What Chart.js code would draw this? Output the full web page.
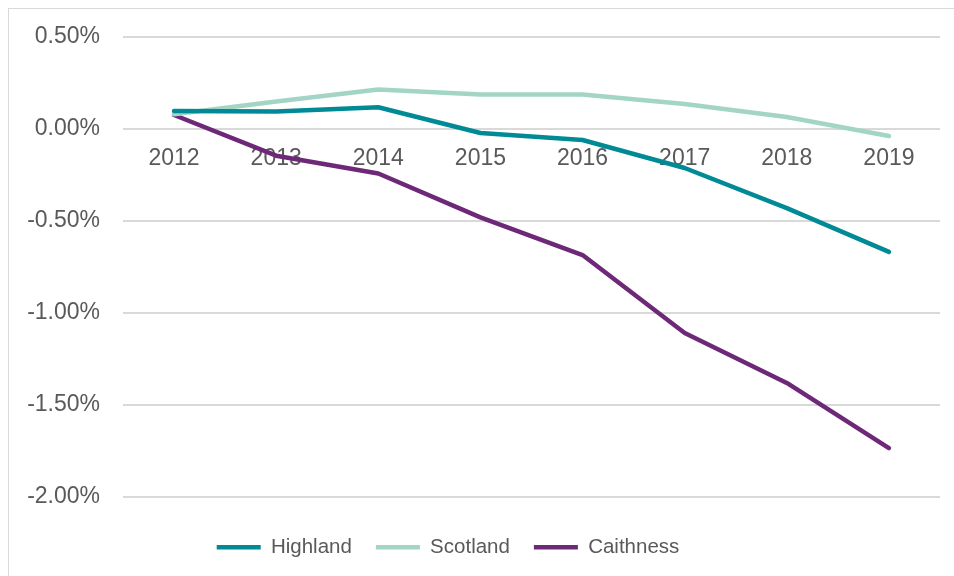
<!DOCTYPE html>
<html>
<head>
<meta charset="utf-8">
<script src="https://cdn.jsdelivr.net/npm/chart.js@4.4.1/dist/chart.umd.min.js"></script>
<style>
  html, body { margin: 0; padding: 0; background: #ffffff; }
  #wrap { position: relative; width: 954px; height: 576px; overflow: hidden; }
  #frame { position: absolute; left: 8px; top: 8px; width: 1200px; height: 1200px;
           border: 1.5px solid #d9d9d9; box-sizing: border-box; }
  #chart { position: absolute; left: 0; top: 0; }
</style>
</head>
<body>
<div id="wrap">
  <div id="frame"></div>
  <canvas id="chart" width="954" height="576"></canvas>
</div>
<script>
// Years on the category axis
const years = ['2012', '2013', '2014', '2015', '2016', '2017', '2018', '2019'];

// Annual population change, percent
const highland  = [0.098, 0.095, 0.118, -0.022, -0.060, -0.212, -0.430, -0.668];
const scotland  = [0.080, 0.150, 0.215, 0.188, 0.188, 0.136, 0.065, -0.038];
const caithness = [0.076, -0.145, -0.242, -0.480, -0.685, -1.109, -1.380, -1.734];

// Value axis tick values
const yTicks = [0.5, 0, -0.5, -1.0, -1.5, -2.0];

const FONT = "'Liberation Sans', Arial, sans-serif";
const TEXT = '#595959';

function series(label, data, color) {
  return {
    label, data,
    borderColor: color, backgroundColor: color,
    borderWidth: 4.5, tension: 0, pointRadius: 0, pointHoverRadius: 0,
    borderCapStyle: 'round', borderJoinStyle: 'round', fill: false
  };
}

// Nudge the legend row so it sits lower and slightly left of the canvas centre
const legendPlacement = {
  id: 'legendPlacement',
  afterLayout(chart) {
    const lg = chart.legend;
    if (!lg) return;
    lg.top += 16; lg.bottom += 16;
    lg.left -= 44;
  }
};

new Chart(document.getElementById('chart'), {
  type: 'line',
  data: {
    labels: years,
    datasets: [
      series('Highland', highland, '#008a96'),
      series('Scotland', scotland, '#a2d5c6'),
      series('Caithness', caithness, '#6e2878')
    ]
  },
  options: {
    responsive: false,
    animation: false,
    events: [],
    layout: { padding: { left: 0, right: 14, top: 37, bottom: 24.5 } },
    scales: {
      x: {
        type: 'category',
        position: { y: 0 },
        offset: true,
        grid: { display: false, drawTicks: false },
        border: { display: false },
        ticks: { color: TEXT, font: { family: FONT, size: 23 }, padding: 16, maxRotation: 0, autoSkip: false }
      },
      y: {
        min: -2.0, max: 0.5,
        afterBuildTicks(scale) { scale.ticks = yTicks.map(v => ({ value: v })); },
        afterFit(scale) { scale.width = 123; },
        grid: { color: '#d9d9d9', lineWidth: 2, drawTicks: false },
        border: { display: false },
        ticks: {
          color: TEXT, font: { family: FONT, size: 23 }, padding: 23,
          callback: v => v.toFixed(2) + '%'
        }
      }
    },
    plugins: {
      tooltip: { enabled: false },
      legend: {
        position: 'bottom',
        labels: {
          usePointStyle: true, pointStyle: 'line', pointStyleWidth: 44,
          color: TEXT, font: { family: FONT, size: 20.5 }, padding: 24
        }
      }
    }
  },
  plugins: [legendPlacement]
});
</script>
</body>
</html>
